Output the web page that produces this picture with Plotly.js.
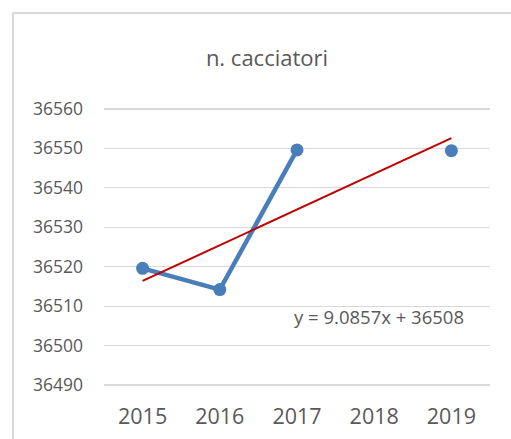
<!DOCTYPE html>
<html>
<head>
<meta charset="utf-8">
<script src="https://cdn.plot.ly/plotly-3.0.1.min.js"></script>
<style>
html,body{margin:0;padding:0;background:#fff;overflow:hidden;}
#frame{position:absolute;left:12px;top:12px;width:620px;height:600px;border:2px solid #d9d9d9;box-sizing:border-box;}
#chart{position:absolute;left:0;top:0;width:511px;height:439px;}
</style>
</head>
<body>
<div id="frame"></div>
<div id="chart"></div>
<script>
// Data
const years = [2015, 2016, 2017, 2018, 2019];
const cacciatori = [36519.6, 36514.2, 36549.6, null, 36549.4];
const trendYears = [2015, 2019];
const trendValues = [36516.4, 36552.6];
const yTicks = [36490, 36500, 36510, 36520, 36530, 36540, 36550, 36560];
const titleText = "n. cacciatori";
const equationText = "y = 9.0857x + 36508";

const textColor = "#595959";
const fontFam = "'Open Sans', 'Liberation Sans', sans-serif";

const traces = [
  {
    x: years, y: cacciatori, type: "scatter", mode: "lines+markers",
    connectgaps: false,
    line: {color: "#4a7ebb", width: 4.5},
    marker: {color: "#4a7ebb", size: 13},
    hoverinfo: "skip", showlegend: false
  },
  {
    x: trendYears, y: trendValues, type: "scatter", mode: "lines",
    line: {color: "#c00000", width: 2},
    hoverinfo: "skip", showlegend: false
  }
];

const layout = {
  width: 511, height: 439,
  margin: {l: 104, r: 21, t: 101, b: 46, pad: 0},
  paper_bgcolor: "rgba(0,0,0,0)",
  plot_bgcolor: "rgba(0,0,0,0)",
  font: {family: fontFam, color: textColor},
  title: {
    text: titleText,
    font: {family: fontFam, size: 22, color: textColor},
    xref: "container", x: 267/511, xanchor: "center",
    yref: "container", y: 1 - 58/439, yanchor: "middle"
  },
  xaxis: {
    range: [2014.5, 2019.5],
    tickvals: years, ticktext: years.map(String),
    showgrid: false, zeroline: false, showline: false, ticks: "",
    tickfont: {family: fontFam, size: 21.5, color: textColor},
    ticklabelstandoff: 8,
    fixedrange: true
  },
  yaxis: {
    range: [36488, 36562],
    tickvals: yTicks, ticktext: yTicks.map(String),
    showgrid: true, gridcolor: "#d9d9d9", gridwidth: 1.3,
    zeroline: false, showline: false, ticks: "",
    tickfont: {family: fontFam, size: 17.5, color: textColor},
    ticklabelstandoff: 20,
    fixedrange: true
  },
  annotations: [{
    text: equationText, x: 2018.06, y: 36507.5, xref: "x", yref: "y",
    showarrow: false, xanchor: "center", yanchor: "middle",
    font: {family: fontFam, size: 18.5, color: textColor}
  }],
  showlegend: false
};

Plotly.newPlot("chart", traces, layout, {displayModeBar: false, staticPlot: true});
</script>
</body>
</html>
